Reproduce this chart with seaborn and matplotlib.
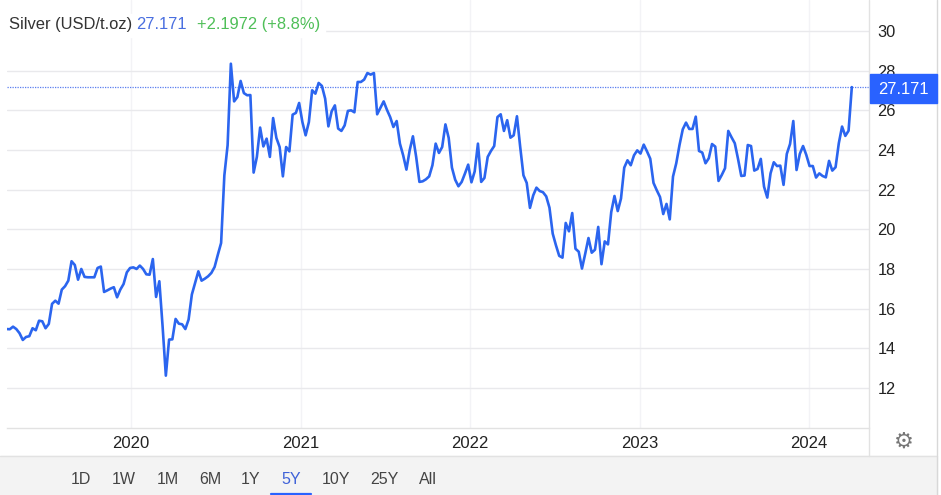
import pandas as pd
import seaborn as sns
import matplotlib.pyplot as plt
from matplotlib.patches import Rectangle
from matplotlib.lines import Line2D

# weekly silver close
prices = [
    14.97, 14.96, 15.09, 14.97, 14.76, 14.42, 14.57, 14.61, 15.01, 14.91, 15.39, 15.36, 15.01, 15.23, 16.24, 16.40,
    16.25, 16.96, 17.13, 17.41, 18.39, 18.20, 17.46, 18.00, 17.60, 17.58, 17.58, 17.58, 18.05, 18.12, 16.84, 16.92,
    17.01, 17.08, 16.57, 16.96, 17.24, 17.83, 18.05, 18.08, 18.00, 18.17, 18.00, 17.73, 17.71, 18.50, 16.59, 17.38,
    15.11, 12.62, 14.44, 14.45, 15.48, 15.24, 15.21, 14.97, 15.45, 16.71, 17.29, 17.88, 17.41, 17.51, 17.63, 17.80,
    18.10, 18.72, 19.31,
    22.72, 24.24, 28.35, 26.45, 26.67, 27.48, 26.87, 26.76, 26.77, 22.86, 23.65, 25.13, 24.18, 24.57, 23.65, 25.61,
    24.61, 24.15, 22.67, 24.15, 23.93, 25.78, 25.87, 26.37, 25.41, 24.74, 25.41, 27.01, 26.84, 27.38, 27.23, 26.59,
    25.19, 25.95, 26.25, 25.08, 24.96, 25.24, 25.97, 26.00, 25.90, 27.43, 27.43, 27.55, 27.88, 27.80, 27.88, 25.80,
    26.12, 26.45, 26.03, 25.66, 25.16, 25.46, 24.32, 23.73, 23.01, 23.98, 24.69, 23.65, 22.39, 22.42, 22.52, 22.67,
    23.23, 24.32, 23.85,
    24.15, 25.29, 24.61, 23.11, 22.50, 22.17, 22.39, 22.81, 23.26, 22.37, 22.92, 24.32, 22.39, 22.59, 23.65, 23.95,
    24.20, 25.66, 25.80, 24.96, 25.50, 24.62, 24.74, 25.70, 24.15, 22.72, 22.34, 21.08, 21.71, 22.10, 21.93, 21.87,
    21.66, 21.09, 19.78, 19.19, 18.66, 18.57, 20.32, 19.90, 20.82, 19.02, 18.87, 18.02, 18.77, 19.56, 18.82, 18.97,
    20.12, 18.24, 19.39, 19.24, 20.87, 21.68, 20.92, 21.55, 23.11, 23.48, 23.23, 23.73, 23.98, 23.82, 24.27, 23.93,
    23.56, 22.34, 21.97, 21.63,
    20.77, 21.28, 20.50, 22.66, 23.33, 24.25, 25.04, 25.38, 25.06, 25.06, 25.68, 23.95, 23.87, 23.33, 23.58, 24.30,
    24.17, 22.44, 22.74, 23.08, 24.96, 24.64, 24.34, 23.55, 22.69, 22.71, 24.25, 24.20, 22.96, 23.04, 23.55, 22.15,
    21.60, 22.82, 23.38, 23.19, 23.21, 22.24, 23.80, 24.30, 25.46, 22.99, 23.80, 24.20, 23.75, 23.19, 23.19, 22.61,
    22.82, 22.69, 22.62, 23.45, 22.96, 23.13, 24.34, 25.18, 24.71, 24.97, 27.171,
]
y_ticks = [12, 14, 16, 18, 20, 22, 24, 26, 28, 30]
years = [2020, 2021, 2022, 2023, 2024]
ranges = ['1D', '1W', '1M', '6M', '1Y', '5Y', '10Y', '25Y', 'All']
range_x = [81, 124, 168, 210, 251, 291, 336, 384, 428]
last_price = 27.171

BLUE = '#2b65ef'
W, H = 941, 495

df = pd.DataFrame({
    'date': pd.date_range('2019-04-10', periods=len(prices), freq='7D') - pd.Timedelta(days=1),
    'price': prices,
})

sns.set_theme(style='white')
plt.rcParams['font.family'] = ['Liberation Sans', 'DejaVu Sans']

fig = plt.figure(figsize=(W / 100, H / 100), dpi=100)
ax = fig.add_axes([7 / W, 1 - 428 / H, (869 - 7) / W, 428 / H])


def fx(px):
    return px / W


def fy(px):
    return 1 - px / H


sns.lineplot(data=df, x='date', y='price', color=BLUE, linewidth=1.9, ax=ax, zorder=3)
ax.axhline(last_price, color='#5b7ff0', linewidth=0.9, linestyle=(0, (1, 1)), zorder=2)

ax.set_xlim(pd.Timestamp('2019-04-10'), pd.Timestamp('2024-05-09'))
ax.set_ylim(9.98, 31.563)
ax.set_xlabel('')
ax.set_ylabel('')
ax.set_xticks([pd.Timestamp(f'{y}-01-01') for y in years])
ax.set_xticklabels([str(y) for y in years])
ax.yaxis.tick_right()
ax.set_yticks(y_ticks)
ax.set_yticklabels([str(t) for t in y_ticks])
ax.tick_params(axis='x', length=0, pad=6, labelsize=12, labelcolor='#222222')
ax.tick_params(axis='y', length=0, pad=6, labelsize=11.8, labelcolor='#222222')
ax.grid(axis='y', color='#e9e9ec', linewidth=1.0)
ax.grid(axis='x', color='#f3f3f6', linewidth=1.0)
ax.set_axisbelow(True)
for side in ['top', 'left', 'right']:
    ax.spines[side].set_visible(False)
ax.spines['bottom'].set_color('#e2e2e2')
ax.spines['bottom'].set_linewidth(1.0)

# header, with a white patch over the gridlines
fig.add_artist(Rectangle((fx(7), fy(37)), fx(318), 23 / H, color='white', zorder=5))
fig.text(fx(9), fy(24.5), 'Silver (USD/t.oz)', fontsize=11.9, color='#333333', va='center', zorder=6)
fig.text(fx(136), fy(24.5), '27.171', fontsize=11.9, color='#4a6fe0', va='center', zorder=6)
fig.text(fx(197), fy(24.5), '+2.1972 (+8.8%)', fontsize=11.9, color='#4fbf58', va='center', zorder=6)

# last price tag
fig.add_artist(Rectangle((fx(870), fy(103)), fx(67), 29 / H, color='#2962ff', zorder=5))
fig.text(fx(903), fy(89), '27.171', fontsize=11.9, color='white', va='center', ha='center', zorder=6)

# bottom toolbar
fig.add_artist(Rectangle((0, 0), fx(937), 39 / H, color='#f3f3f3', zorder=1))
fig.add_artist(Line2D([0, fx(937)], [fy(456), fy(456)], color='#e2e2e2', linewidth=1.0, zorder=2))
fig.add_artist(Line2D([fx(869), fx(869)], [fy(456), 1], color='#e2e2e2', linewidth=1.0, zorder=2))
fig.add_artist(Line2D([fx(937), fx(937)], [0, 1], color='#d8d8d8', linewidth=1.0, zorder=2))
for label, px in zip(ranges, range_x):
    active = label == '5Y'
    fig.text(fx(px), fy(479), label, fontsize=11.5, ha='center', va='center',
             color='#3f62d8' if active else '#444444', zorder=6)
fig.add_artist(Line2D([fx(271), fx(311)], [fy(494), fy(494)], color='#2962ff', linewidth=1.6, zorder=6))

fig.text(fx(904), fy(442), '\u2699', fontsize=16, family='DejaVu Sans', color='#777777',
         ha='center', va='center', zorder=6)

fig.savefig('out.png', dpi=100)
